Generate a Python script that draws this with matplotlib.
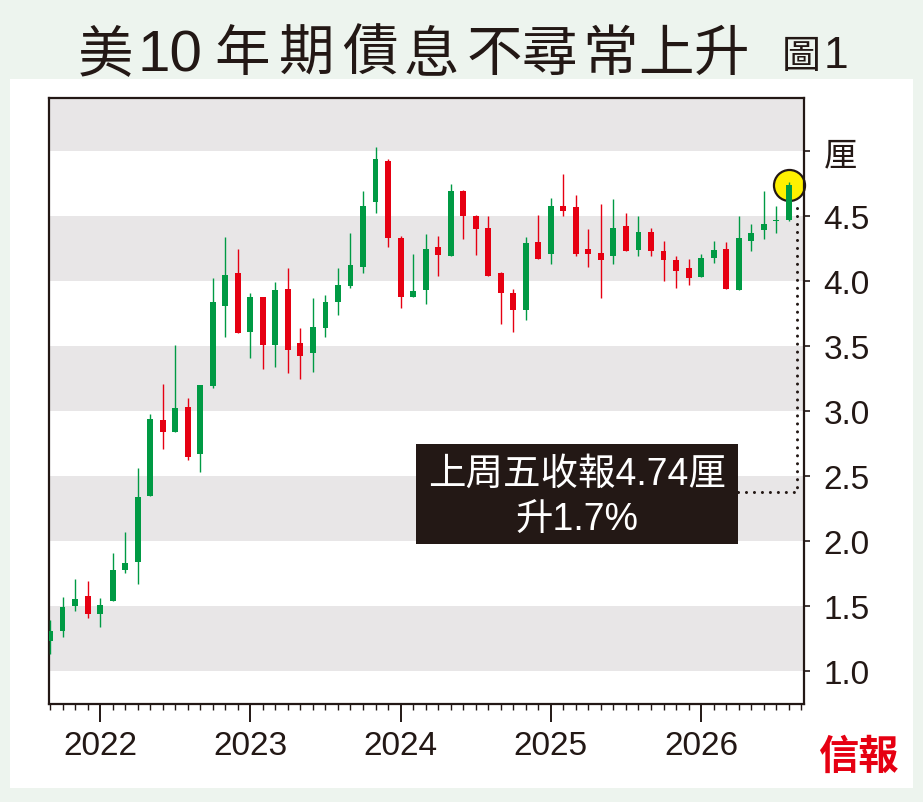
import matplotlib
matplotlib.use("Agg")
import matplotlib.pyplot as plt
from matplotlib.patches import Rectangle
import numpy as np

plt.rcParams['font.family'] = ['Liberation Sans', 'Noto Sans CJK TC', 'DejaVu Sans']

# monthly candles
opens = [1.23, 1.31, 1.50, 1.575, 1.44, 1.54, 1.78, 1.84, 2.35, 2.93,
         2.84, 3.03, 2.67, 3.19, 3.81, 4.06, 3.61, 3.88, 3.51, 3.94,
         3.525, 3.45, 3.64, 3.84, 3.96, 4.11, 4.61, 4.925, 4.33, 3.88,
         3.93, 4.26, 4.19, 4.69, 4.50, 4.41, 4.06, 3.91, 3.78, 4.30,
         4.21, 4.58, 4.57, 4.25, 4.215, 4.19, 4.42, 4.24, 4.38, 4.23,
         4.16, 4.10, 4.03, 4.175, 4.25, 3.93, 4.305, 4.39, 4.46, 4.47]
highs = [1.39, 1.57, 1.71, 1.69, 1.56, 1.91, 2.07, 2.56, 2.98, 3.21,
         3.51, 3.10, 3.20, 4.02, 4.34, 4.25, 3.91, 3.88, 3.99, 4.10,
         3.64, 3.87, 3.89, 4.10, 4.37, 4.69, 5.03, 4.94, 4.35, 4.21,
         4.36, 4.35, 4.75, 4.70, 4.51, 4.50, 4.07, 3.94, 4.34, 4.51,
         4.64, 4.82, 4.66, 4.40, 4.59, 4.63, 4.52, 4.50, 4.41, 4.31,
         4.19, 4.17, 4.21, 4.31, 4.30, 4.50, 4.44, 4.69, 4.58, 4.76]
lows = [1.13, 1.26, 1.46, 1.41, 1.34, 1.54, 1.75, 1.67, 2.35, 2.71,
        2.84, 2.62, 2.53, 3.18, 3.57, 3.60, 3.41, 3.32, 3.34, 3.29,
        3.25, 3.30, 3.57, 3.74, 3.95, 4.06, 4.52, 4.26, 3.79, 3.88,
        3.82, 4.04, 4.19, 4.32, 4.20, 4.04, 3.67, 3.61, 3.70, 4.17,
        4.13, 4.50, 4.19, 4.11, 3.87, 4.13, 4.23, 4.19, 4.19, 4.00,
        3.95, 3.97, 4.03, 4.14, 3.94, 3.93, 4.23, 4.32, 4.37, 4.46]
closes = [1.31, 1.49, 1.55, 1.44, 1.51, 1.78, 1.83, 2.34, 2.94, 2.84,
          3.02, 2.65, 3.20, 3.84, 4.05, 3.60, 3.88, 3.51, 3.93, 3.47,
          3.425, 3.65, 3.84, 3.97, 4.12, 4.58, 4.94, 4.33, 3.88, 3.92,
          4.25, 4.20, 4.69, 4.50, 4.40, 4.04, 3.905, 3.78, 4.29, 4.17,
          4.58, 4.54, 4.21, 4.21, 4.165, 4.405, 4.23, 4.38, 4.23, 4.16,
          4.08, 4.02, 4.18, 4.24, 3.94, 4.33, 4.37, 4.44, 4.47, 4.74]

year_labels = ['2022', '2023', '2024', '2025', '2026']
year_pos = [4, 16, 28, 40, 52]
ytick_vals = [1.0, 1.5, 2.0, 2.5, 3.0, 3.5, 4.0, 4.5, 5.0]
ytick_labels = ['1.0', '1.5', '2.0', '2.5', '3.0', '3.5', '4.0', '4.5', '厘']
title_parts = ['美', '10', '年', '期', '債', '息', '不', '尋', '常', '上', '升']
note_lines = ['上周五收報4.74厘', '升1.7%']

GREEN = '#009a44'
RED = '#e60012'
INK = '#231815'
BAND = '#e8e6e7'

W, H = 923, 803
fig = plt.figure(figsize=(W / 100, H / 100), dpi=100)
fig.patch.set_facecolor('#edf4ee')

def fx(px):
    return px / W

def fy(py):
    return 1 - py / H

# white panel behind the chart
fig.patches.append(Rectangle((fx(10), fy(789)), fx(913) - fx(10), fy(80) - fy(789),
                             transform=fig.transFigure, facecolor='white',
                             edgecolor='none', zorder=-10))

ax = fig.add_axes([fx(49), fy(705), fx(804) - fx(49), fy(99) - fy(705)])
ax.set_facecolor('white')
ax.set_xlim(-0.08, 60.22)
ax.set_ylim(0.746, 5.408)

for lo in [1.0, 2.0, 3.0, 4.0, 5.0]:
    ax.axhspan(lo, lo + 0.5, color=BAND, lw=0, zorder=0)

x = np.arange(len(opens))
o = np.array(opens)
c = np.array(closes)
colors = [GREEN if cc >= oo else RED for oo, cc in zip(o, c)]

# marker on the last close
ax.scatter([x[-1]], [c[-1]], s=500, facecolor='#fff100', edgecolor=INK,
           linewidth=1.6, zorder=2, clip_on=False)

ax.vlines(x, lows, highs, colors=colors, linewidth=1.0, zorder=3)
bottoms = np.minimum(o, c)
heights = np.maximum(np.abs(c - o), 0.012)
ax.bar(x, heights, bottom=bottoms, width=0.47, color=colors, linewidth=0, zorder=4)

# note box with dotted leader
ax.add_patch(Rectangle((29.23, 1.977), 25.72, 0.769, facecolor=INK,
                       edgecolor='none', zorder=5))
ax.text(42.09, 2.515, note_lines[0], color='white', fontsize=27,
        ha='center', va='center', zorder=6)
ax.text(42.09, 2.169, note_lines[1], color='white', fontsize=27,
        ha='center', va='center', zorder=6)
ax.plot([54.95, 59.66, 59.66], [2.377, 2.377, 4.59], color=INK, lw=2.2,
        linestyle=(0, (0.01, 2.6)), dash_capstyle='round', zorder=5,
        clip_on=False)

for s in ax.spines.values():
    s.set_color(INK)
    s.set_linewidth(1.6)

ax.yaxis.tick_right()
ax.set_yticks(ytick_vals)
ax.set_yticklabels(ytick_labels)
ax.tick_params(axis='y', direction='out', length=4, width=1.2, pad=10,
               labelsize=24, colors=INK)
ax.get_yticklabels()[-1].set_fontfamily(['Noto Sans CJK TC'])

ax.set_xticks(year_pos)
ax.set_xticklabels(year_labels)
ax.set_xticks(np.arange(0, 61), minor=True)
ax.tick_params(axis='x', which='major', direction='out', length=13, width=1.4,
               pad=6, labelsize=24, colors=INK)
ax.tick_params(axis='x', which='minor', direction='out', length=4, width=1.0,
               colors=INK)

# title, glyph by glyph to keep the wide letter spacing
title_x = [105, 170, 242, 307, 370, 431, 494, 549, 610, 666, 722]
for part, px in zip(title_parts, title_x):
    if part.isdigit():
        fig.text(fx(px), fy(71), part, fontsize=42, color=INK, ha='center',
                 va='baseline', family=['Liberation Sans'])
    else:
        fig.text(fx(px), fy(71), part, fontsize=40, color=INK, ha='center',
                 va='baseline', fontweight='medium', family=['Noto Sans CJK TC'])
fig.text(fx(801), fy(68), '圖', fontsize=28, color=INK, ha='center',
         va='baseline', fontweight='medium', family=['Noto Sans CJK TC'])
fig.text(fx(836), fy(68), '1', fontsize=32, color=INK, ha='center',
         va='baseline', family=['Liberation Sans'])

fig.text(fx(858), fy(757), '信報', fontsize=29, color=RED, fontweight='bold',
         ha='center', va='center', family=['Noto Sans CJK TC'])

fig.savefig('out.png', dpi=100)
